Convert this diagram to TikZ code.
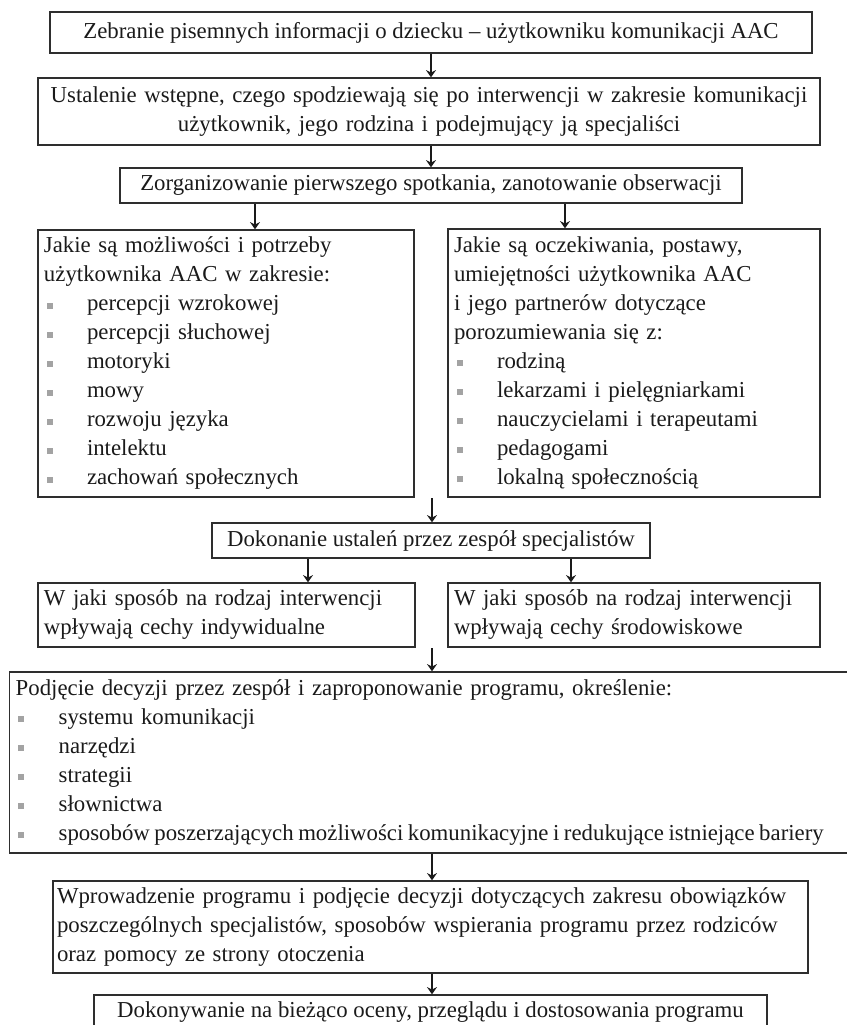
\documentclass[tikz,border=0pt]{standalone}
\usepackage{fontspec}
\setmainfont{Liberation Serif}
\usepackage{xcolor}
\usepackage{tikz}
\usetikzlibrary{arrows.meta, positioning}
\definecolor{ink}{HTML}{1A1A1A}
\definecolor{frame}{HTML}{2E2E2E}
\definecolor{bulletgray}{HTML}{A3A3A3}
\newcommand{\pkt}[1]{\makebox[21.5pt][l]{\hspace{1.3pt}\textcolor{bulletgray}{\rule[1.2pt]{3pt}{3pt}}}#1}
\tikzset{
  box/.style  = {draw=frame, line width=0.7pt, rectangle, text=ink, inner xsep=3pt, inner ysep=2pt,
                 font=\fontsize{11.4}{14.5}\selectfont},
  boxc/.style = {box, align=center},
  boxl/.style = {box, align=left},
  flow/.style = {-{Stealth[length=3.6pt, width=5pt, inset=1.2pt]}, draw=ink, line width=0.6pt},
}

\begin{document}
\begin{tikzpicture}[x=0.5pt, y=-0.5pt]
  \useasboundingbox (0,0) rectangle (847,1025);

  % first steps
  \node[boxc, minimum width=381pt, minimum height=20.5pt] (zebranie) at (431,32.5)
    {Zebranie pisemnych informacji o dziecku – użytkowniku komunikacji AAC};
  \node[boxc, minimum width=391pt, minimum height=33.5pt, text width=385pt] (ustalenie) at (429,111.5)
    {Ustalenie wstępne, czego spodziewają się po interwencji w zakresie komunikacji\\
     użytkownik, jego rodzina i podejmujący ją specjaliści};
  \node[boxc, minimum width=311pt, minimum height=17.5pt] (spotkanie) at (431,185.5)
    {Zorganizowanie pierwszego spotkania, zanotowanie obserwacji};
  \draw[flow] (zebranie.south) -- (zebranie.south |- ustalenie.north);
  \draw[flow] (ustalenie.south -| spotkanie.north) -- (spotkanie.north);

  % two columns
  \node[boxl, minimum width=188pt, minimum height=133.5pt, text width=182pt] (mozliwosci) at (226,363.5)
    {Jakie są możliwości i potrzeby\\
     użytkownika AAC w zakresie:\\
     \pkt{percepcji wzrokowej}\\
     \pkt{percepcji słuchowej}\\
     \pkt{motoryki}\\
     \pkt{mowy}\\
     \pkt{rozwoju języka}\\
     \pkt{intelektu}\\
     \pkt{zachowań społecznych}};
  \node[boxl, minimum width=186pt, minimum height=134pt, text width=180pt] (oczekiwania) at (634,363)
    {Jakie są oczekiwania, postawy,\\
     umiejętności użytkownika AAC\\
     i jego partnerów dotyczące\\
     porozumiewania się z:\\
     \pkt{rodziną}\\
     \pkt{lekarzami i pielęgniarkami}\\
     \pkt{nauczycielami i terapeutami}\\
     \pkt{pedagogami}\\
     \pkt{lokalną społecznością}};
  \coordinate (xl) at (255,0);
  \coordinate (xr) at (565,0);
  \draw[flow] (spotkanie.south -| xl) -- (mozliwosci.north -| xl);
  \draw[flow] (spotkanie.south -| xr) -- (oczekiwania.north -| xr);

  % team findings
  \node[boxc, minimum width=219pt, minimum height=17.5pt] (ustalenia) at (431,540.5)
    {Dokonanie ustaleń przez zespół specjalistów};
  \coordinate (zbieg) at (432,498);
  \draw[flow] (zbieg) -- (zbieg |- ustalenia.north);
  \node[boxl, minimum width=188.5pt, minimum height=32pt, text width=182.5pt] (indywidualne) at (226.5,615)
    {W jaki sposób na rodzaj interwencji\\ wpływają cechy indywidualne};
  \node[boxl, minimum width=186pt, minimum height=32pt, text width=180pt] (srodowiskowe) at (634,615)
    {W jaki sposób na rodzaj interwencji\\ wpływają cechy środowiskowe};
  \coordinate (xl2) at (308,0);
  \coordinate (xr2) at (571,0);
  \draw[flow] (ustalenia.south -| xl2) -- (indywidualne.north -| xl2);
  \draw[flow] (ustalenia.south -| xr2) -- (srodowiskowe.north -| xr2);

  % programme
  \node[boxl, minimum width=440pt, minimum height=90.5pt, text width=434pt, anchor=west] (program) at (9,762.5)
    {Podjęcie decyzji przez zespół i zaproponowanie programu, określenie:\\
     \pkt{systemu komunikacji}\\
     \pkt{narzędzi}\\
     \pkt{strategii}\\
     \pkt{słownictwa}\\
     \pkt{\spaceskip=0.2em sposobów poszerzających możliwości komunikacyjne i redukujące istniejące bariery}};
  \coordinate (zbieg2) at (432,648);
  \draw[flow] (zbieg2) -- (zbieg2 |- program.north);
  \node[boxl, inner xsep=2pt, minimum width=377.5pt, minimum height=46pt, text width=373.5pt] (wprowadzenie) at (430.5,927)
    {Wprowadzenie programu i podjęcie decyzji dotyczących zakresu obowiązków\\
     poszczególnych specjalistów, sposobów wspierania programu przez rodziców\\
     oraz pomocy ze strony otoczenia};
  \node[boxc, minimum width=336.5pt, minimum height=17.5pt] (ocena) at (430.5,1012.5)
    {Dokonywanie na bieżąco oceny, przeglądu i dostosowania programu};
  \draw[flow] (program.south -| zbieg2) -- (wprowadzenie.north -| zbieg2);
  \draw[flow] (wprowadzenie.south -| zbieg2) -- (ocena.north -| zbieg2);
\end{tikzpicture}
\end{document}
